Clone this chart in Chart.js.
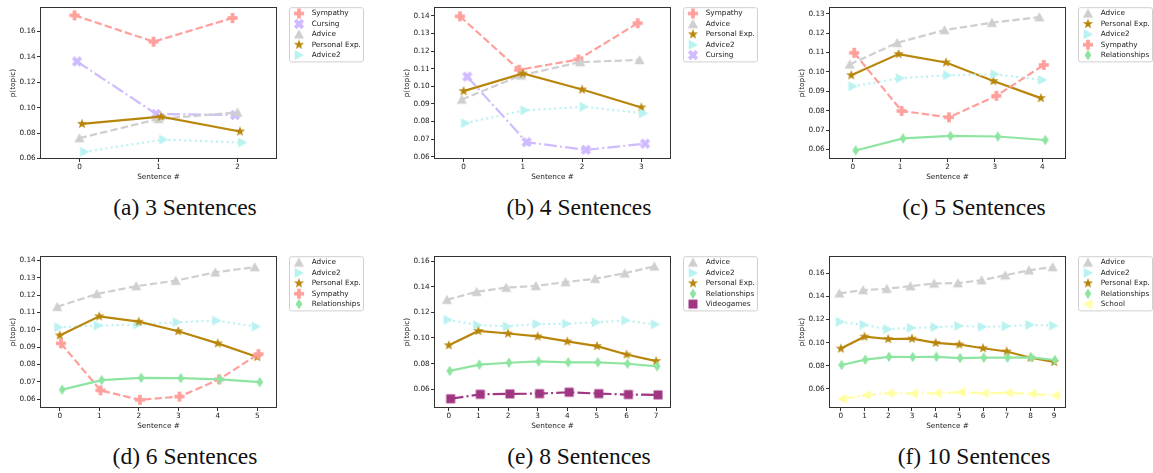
<!DOCTYPE html>
<html>
<head>
<meta charset="utf-8">
<script src="https://cdn.jsdelivr.net/npm/chart.js@4/dist/chart.umd.min.js"></script>
<style>
  body { margin: 0; background: #fff; width: 1153px; height: 473px; position: relative; overflow: hidden; }
  canvas { position: absolute; }
  .cap { position: absolute; width: 200px; text-align: center; font-family: "Liberation Serif", serif;
         font-size: 23.5px; line-height: 24px; color: #111; white-space: nowrap; }
</style>
</head>
<body>
<script>
// ---- data ----
const sentA = ['0', '1', '2'];
const sentB = ['0', '1', '2', '3'];
const sentC = ['0', '1', '2', '3', '4'];
const sentD = ['0', '1', '2', '3', '4', '5'];
const sentE = ['0', '1', '2', '3', '4', '5', '6', '7'];
const sentF = ['0', '1', '2', '3', '4', '5', '6', '7', '8', '9'];

const ticksBy2 = [0.06, 0.08, 0.10, 0.12, 0.14, 0.16];
const ticks06to14 = [0.06, 0.07, 0.08, 0.09, 0.10, 0.11, 0.12, 0.13, 0.14];
const ticks06to13 = [0.06, 0.07, 0.08, 0.09, 0.10, 0.11, 0.12, 0.13];

// (a) 3 sentences
const topicsA = ['Sympathy', 'Cursing', 'Advice', 'Personal Exp.', 'Advice2'];
const aSympathy = [0.1728, 0.1520, 0.1707];
const aCursing = [0.1364, 0.0950, 0.0942];
const aAdvice = [0.0760, 0.0911, 0.0962];
const aPersonal = [0.0872, 0.0929, 0.0812];
const aAdvice2 = [0.0652, 0.0748, 0.0725];

// (b) 4 sentences
const topicsB = ['Sympathy', 'Advice', 'Personal Exp.', 'Advice2', 'Cursing'];
const bSympathy = [0.1398, 0.1094, 0.1153, 0.1359];
const bAdvice = [0.0925, 0.1062, 0.1138, 0.1150];
const bPersonal = [0.0973, 0.1073, 0.0982, 0.0880];
const bAdvice2 = [0.0791, 0.0864, 0.0884, 0.0847];
const bCursing = [0.1055, 0.0683, 0.0639, 0.0674];

// (c) 5 sentences
const topicsC = ['Advice', 'Personal Exp.', 'Advice2', 'Sympathy', 'Relationships'];
const cAdvice = [0.1039, 0.1150, 0.1216, 0.1254, 0.1283];
const cPersonal = [0.0983, 0.1092, 0.1049, 0.0953, 0.0865];
const cAdvice2 = [0.0926, 0.0968, 0.0983, 0.0988, 0.0959];
const cSympathy = [0.1099, 0.0799, 0.0766, 0.0877, 0.1036];
const cRelationships = [0.0595, 0.0657, 0.0670, 0.0667, 0.0649];

// (d) 6 sentences
const topicsD = ['Advice', 'Advice2', 'Personal Exp.', 'Sympathy', 'Relationships'];
const dAdvice = [0.1133, 0.1207, 0.1252, 0.1284, 0.1332, 0.1362];
const dAdvice2 = [0.1015, 0.1025, 0.1030, 0.1044, 0.1053, 0.1019];
const dPersonal = [0.0968, 0.1078, 0.1047, 0.0992, 0.0922, 0.0843];
const dSympathy = [0.0922, 0.0651, 0.0596, 0.0615, 0.0714, 0.0860];
const dRelationships = [0.0655, 0.0710, 0.0723, 0.0721, 0.0714, 0.0698];

// (e) 8 sentences
const topicsE = ['Advice', 'Advice2', 'Personal Exp.', 'Relationships', 'Videogames'];
const eAdvice = [0.1298, 0.1360, 0.1393, 0.1406, 0.1436, 0.1462, 0.1505, 0.1559];
const eAdvice2 = [0.1142, 0.1101, 0.1091, 0.1109, 0.1111, 0.1122, 0.1137, 0.1106];
const ePersonal = [0.0943, 0.1055, 0.1035, 0.1012, 0.0973, 0.0937, 0.0871, 0.0820];
const eRelationships = [0.0743, 0.0792, 0.0807, 0.0817, 0.0810, 0.0810, 0.0799, 0.0779];
const eVideogames = [0.0526, 0.0561, 0.0564, 0.0566, 0.0577, 0.0566, 0.0559, 0.0556];

// (f) 10 sentences
const topicsF = ['Advice', 'Advice2', 'Personal Exp.', 'Relationships', 'School'];
const fAdvice = [0.1427, 0.1455, 0.1466, 0.1489, 0.1512, 0.1515, 0.1540, 0.1583, 0.1626, 0.1654];
const fAdvice2 = [0.1180, 0.1154, 0.1117, 0.1128, 0.1134, 0.1145, 0.1137, 0.1143, 0.1154, 0.1148];
const fPersonal = [0.0949, 0.1052, 0.1032, 0.1035, 0.0998, 0.0984, 0.0952, 0.0924, 0.0870, 0.0833];
const fRelationships = [0.0807, 0.0853, 0.0878, 0.0876, 0.0878, 0.0867, 0.0870, 0.0870, 0.0873, 0.0850];
const fSchool = [0.0515, 0.0546, 0.0563, 0.0560, 0.0563, 0.0572, 0.0563, 0.0566, 0.0557, 0.0543];

// ---- styles ----
const STYLE = {
  'Sympathy':      { color: '#ff9f9b', marker: 'plus',     dash: [7.4, 3.2] },
  'Cursing':       { color: '#d0bbff', marker: 'x',        dash: [12.8, 3.2, 2, 3.2] },
  'Advice':        { color: '#cfcfcf', marker: 'triUp',    dash: [7.4, 3.2] },
  'Personal Exp.': { color: '#b8860b', marker: 'star',     dash: [] },
  'Advice2':       { color: '#b9f2f0', marker: 'triRight', dash: [2, 3.3] },
  'Relationships': { color: '#8de5a1', marker: 'diamond',  dash: [] },
  'Videogames':    { color: '#a03582', marker: 'square',   dash: [12.8, 3.2, 2, 3.2] },
  'School':        { color: '#fffea3', marker: 'triLeft',  dash: [12.8, 3.2, 2, 3.2] }
};
const FONT = { family: 'DejaVu Sans', size: 7.3 };
const TEXT = '#222';
const EDGE = '#333';

function makeMarker(shape, color) {
  const s = 14, r = 5.1;
  const c = document.createElement('canvas');
  c.width = s; c.height = s;
  const g = c.getContext('2d');
  g.fillStyle = color;
  g.translate(s / 2, s / 2);
  let pts = [];
  if (shape === 'plus' || shape === 'x') {
    const R = shape === 'x' ? r * 1.05 : r, t = R * 0.36;
    pts = [[-t,-R],[t,-R],[t,-t],[R,-t],[R,t],[t,t],[t,R],[-t,R],[-t,t],[-R,t],[-R,-t],[-t,-t]];
    if (shape === 'x') g.rotate(Math.PI / 4);
  } else if (shape === 'triUp') {
    pts = [[0,-r],[r,r*0.85],[-r,r*0.85]];
  } else if (shape === 'triRight') {
    pts = [[r,0],[-r*0.85,-r],[-r*0.85,r]];
  } else if (shape === 'triLeft') {
    pts = [[-r,0],[r*0.85,-r],[r*0.85,r]];
  } else if (shape === 'star') {
    for (let i = 0; i < 10; i++) {
      const rad = i % 2 === 0 ? r * 1.05 : r * 0.42;
      const a = -Math.PI / 2 + i * Math.PI / 5;
      pts.push([rad * Math.cos(a), rad * Math.sin(a)]);
    }
  } else if (shape === 'diamond') {
    pts = [[0,-r*1.05],[r*0.66,0],[0,r*1.05],[-r*0.66,0]];
  } else if (shape === 'square') {
    const h = r * 0.88;
    pts = [[-h,-h],[h,-h],[h,h],[-h,h]];
  }
  g.beginPath();
  pts.forEach((p, i) => i ? g.lineTo(p[0], p[1]) : g.moveTo(p[0], p[1]));
  g.closePath();
  g.fill();
  return c;
}

const framePlugin = {
  id: 'frame',
  afterDraw(chart) {
    const { ctx, chartArea: a } = chart;
    ctx.save();
    ctx.strokeStyle = EDGE;
    ctx.lineWidth = 1;
    ctx.strokeRect(Math.round(a.left) + 0.5, Math.round(a.top) + 0.5,
                   Math.round(a.right - a.left) - 1, Math.round(a.bottom - a.top) - 1);
    ctx.restore();
  }
};

const legendPlugin = {
  id: 'boxLegend',
  afterDraw(chart) {
    const { ctx, chartArea: a } = chart;
    const sets = chart.data.datasets;
    const left = a.right + 12, top = a.top, w = 74, rowH = 10.4;
    const h = 12.6 + rowH * (sets.length - 1);
    ctx.save();
    ctx.fillStyle = 'rgba(255,255,255,0.8)';
    ctx.strokeStyle = '#d0d0d0';
    ctx.lineWidth = 1;
    ctx.beginPath();
    ctx.roundRect(left + 0.5, top + 0.5, w, h, 2);
    ctx.fill();
    ctx.stroke();
    ctx.font = FONT.size + 'px ' + FONT.family;
    ctx.fillStyle = TEXT;
    ctx.textBaseline = 'middle';
    sets.forEach((ds, i) => {
      const y = top + 6.3 + i * rowH;
      const img = ds.pointStyle;
      ctx.drawImage(img, left + 10 - img.width / 2, y - img.height / 2);
      ctx.fillText(ds.label, left + 22.7, y);
    });
    ctx.restore();
  }
};

function buildPanel(sentences, topics, series, yMin, yMax, yTicks, frameLeft, rowTop) {
  const canvas = document.createElement('canvas');
  canvas.width = 364; canvas.height = 185;
  canvas.style.left = (frameLeft - 40) + 'px';
  canvas.style.top = rowTop + 'px';
  document.body.appendChild(canvas);

  const n = topics.length;
  const dodge = 0.025 * n;   // seaborn-like dodge spread
  const datasets = topics.map((name, k) => {
    const st = STYLE[name];
    const off = n > 1 ? -dodge / 2 + k * dodge / (n - 1) : 0;
    return {
      label: name,
      data: series[k].map((v, i) => ({ x: i + off, y: v })),
      borderColor: st.color,
      backgroundColor: st.color,
      borderWidth: 2.2,
      borderDash: st.dash,
      borderCapStyle: 'butt',
      pointStyle: makeMarker(st.marker, st.color),
      pointRadius: 5,
      tension: 0,
      order: n - k,
      clip: false
    };
  });

  new Chart(canvas, {
    type: 'line',
    data: { datasets },
    options: {
      responsive: false,
      animation: false,
      devicePixelRatio: 1,
      events: [],
      layout: { padding: { left: 0, top: 5, right: 87, bottom: 4 } },
      plugins: { legend: { display: false }, tooltip: { enabled: false } },
      scales: {
        x: {
          type: 'linear',
          min: -0.5,
          max: sentences.length - 0.5,
          afterBuildTicks: s => { s.ticks = sentences.map((_, i) => ({ value: i })); },
          afterFit: s => { s.height = 22; s.paddingLeft = 0; s.paddingRight = 0; },
          ticks: { callback: v => sentences[v], font: FONT, color: TEXT, padding: 0.5, maxRotation: 0, autoSkip: false },
          grid: { drawOnChartArea: false, drawTicks: true, tickLength: 3, color: EDGE },
          border: { display: false },
          title: { display: true, text: 'Sentence #', font: FONT, color: TEXT, padding: { top: 0, bottom: 0 } }
        },
        y: {
          type: 'linear',
          min: yMin,
          max: yMax,
          afterBuildTicks: s => { s.ticks = yTicks.map(v => ({ value: v })); },
          afterFit: s => { s.width = 40; s.paddingTop = 0; s.paddingBottom = 0; },
          ticks: { callback: v => v.toFixed(2), font: FONT, color: TEXT, padding: 1.3, autoSkip: false },
          grid: { drawOnChartArea: false, drawTicks: true, tickLength: 3, color: EDGE },
          border: { display: false },
          title: { display: true, text: 'p(topic)', font: FONT, color: TEXT, padding: { top: 8.6, bottom: 0 } }
        }
      }
    },
    plugins: [framePlugin, legendPlugin]
  });
}

function caption(text, frameLeft, top) {
  const d = document.createElement('div');
  d.className = 'cap';
  d.textContent = text;
  d.style.left = (frameLeft + 145 - 100) + 'px';
  d.style.top = top + 'px';
  document.body.appendChild(d);
}

buildPanel(sentA, topicsA, [aSympathy, aCursing, aAdvice, aPersonal, aAdvice2], 0.0595, 0.1792, ticksBy2, 40, 0);
buildPanel(sentB, topicsB, [bSympathy, bAdvice, bPersonal, bAdvice2, bCursing], 0.0587, 0.1450, ticks06to14, 434, 0);
buildPanel(sentC, topicsC, [cAdvice, cPersonal, cAdvice2, cSympathy, cRelationships], 0.0551, 0.1334, ticks06to13, 829, 0);
buildPanel(sentD, topicsD, [dAdvice, dAdvice2, dPersonal, dSympathy, dRelationships], 0.0549, 0.1425, ticks06to14, 40, 249);
buildPanel(sentE, topicsE, [eAdvice, eAdvice2, ePersonal, eRelationships, eVideogames], 0.0454, 0.1638, ticksBy2, 434, 249);
buildPanel(sentF, topicsF, [fAdvice, fAdvice2, fPersonal, fRelationships, fSchool], 0.0435, 0.1748, ticksBy2, 829, 249);

caption('(a) 3 Sentences', 40, 195);
caption('(b) 4 Sentences', 434, 195);
caption('(c) 5 Sentences', 829, 195);
caption('(d) 6 Sentences', 40, 444);
caption('(e) 8 Sentences', 434, 444);
caption('(f) 10 Sentences', 829, 444);
</script>
</body>
</html>
